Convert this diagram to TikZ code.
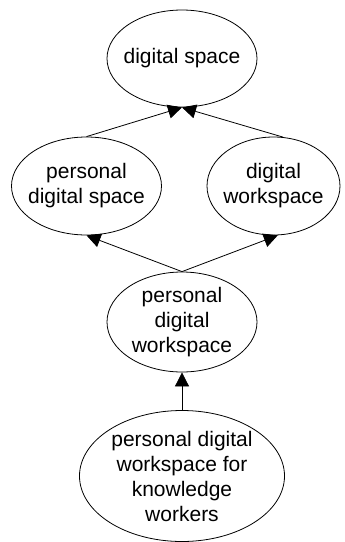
\documentclass[tikz,border=0pt]{standalone}
\usepackage{fontspec}
\setmainfont{Liberation Sans}
\usetikzlibrary{shapes.geometric,arrows.meta}
\begin{document}
\begin{tikzpicture}[x=1pt,y=-1pt,
  concept/.style={draw,ellipse,line width=0.8pt,inner sep=-6pt,align=center,
    font=\fontsize{21}{25}\selectfont},
  link/.style={-{Triangle[length=14pt,width=14pt]},line width=0.8pt}]
\useasboundingbox (0,0) rectangle (345,542);
% Concepts
\node[concept,minimum width=150pt,minimum height=97pt] (ds) at (182,58.5) {digital space};
\node[concept,minimum width=150pt,minimum height=98pt] (pds) at (86.5,186) {personal\\digital space};
\node[concept,minimum width=133pt,minimum height=98pt] (dws) at (273.5,186) {digital\\workspace};
\node[concept,minimum width=150pt,minimum height=100pt] (pdw) at (182,322) {personal\\digital\\workspace};
\node[concept,minimum width=205pt,minimum height=131pt] (pdwkw) at (182,476) {personal digital\\workspace for\\knowledge\\workers};
% Links
\draw[link] (pds.north) -- (ds.south);
\draw[link] (dws.79) -- (ds.south);
\draw[link] (pdw.north) -- (pds.south);
\draw[link] (pdw.north) -- (dws.-85);
\draw[link] (pdwkw.north) -- (pdw.south);
\end{tikzpicture}
\end{document}
